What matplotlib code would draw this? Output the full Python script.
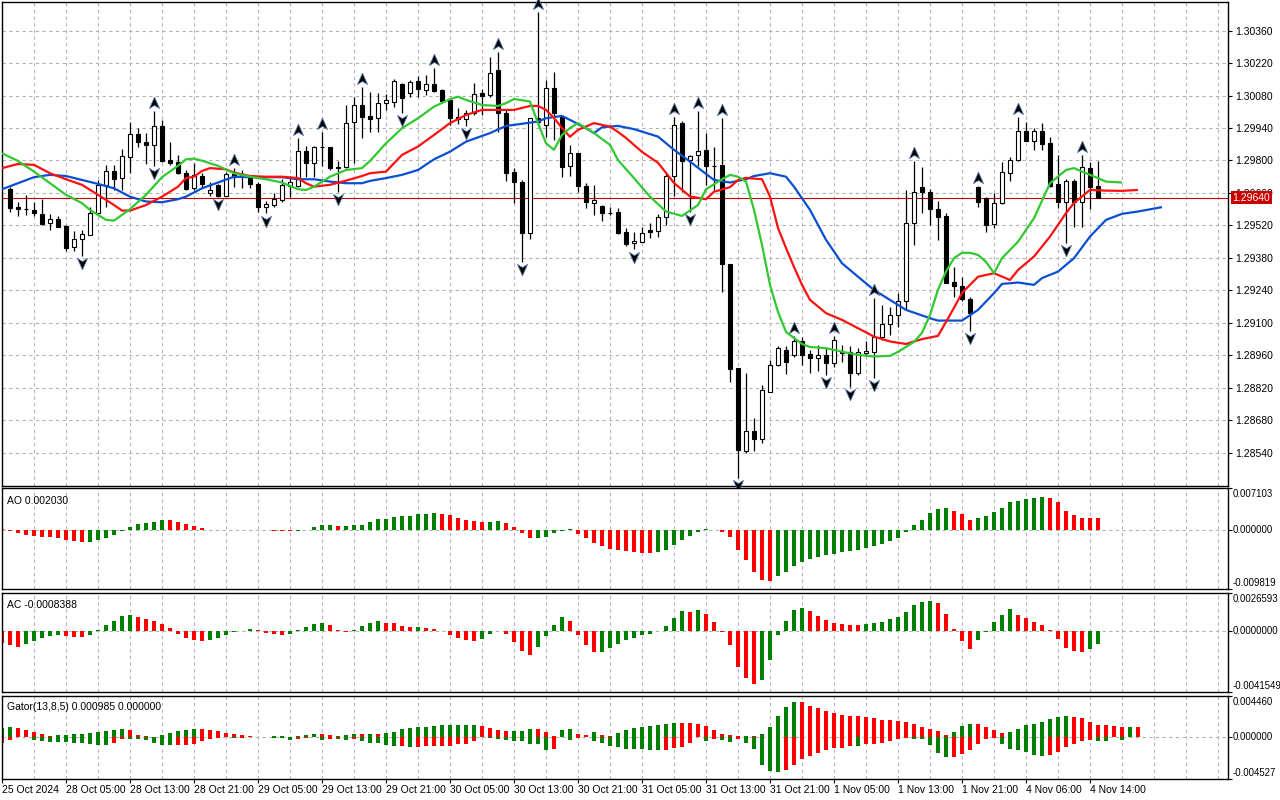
import matplotlib
matplotlib.use("Agg")
import matplotlib.pyplot as plt
from matplotlib.path import Path
import numpy as np

plt.rcParams['font.family'] = ['Liberation Sans', 'DejaVu Sans']

# ---------------- data ----------------
open_ = [1.29676, 1.29601, 1.29591, 1.29587, 1.29570, 1.29530, 1.29548, 1.29518, 1.29426, 1.29461,
         1.29480, 1.29573, 1.29695, 1.29755, 1.29724, 1.29817, 1.29914, 1.29879, 1.29866, 1.29949,
         1.29802, 1.29795, 1.29748, 1.29680, 1.29734, 1.29659, 1.29695, 1.29649, 1.29742, 1.29740,
         1.29724, 1.29699, 1.29599, 1.29608, 1.29631, 1.29690, 1.29692, 1.29841, 1.29791, 1.29857,
         1.29857, 1.29772, 1.29771, 1.29966, 1.30038, 1.29992, 1.29982, 1.30047, 1.30054, 1.30129,
         1.30092, 1.30143, 1.30104, 1.30129, 1.30104, 1.30061, 1.29986, 1.29980, 1.30004, 1.30090,
         1.30083, 1.30190, 1.30004, 1.29751, 1.29709, 1.29487, 1.29982, 1.29953, 1.30111, 1.29986,
         1.29777, 1.29831, 1.29692, 1.29616, 1.29604, 1.29575, 1.29577, 1.29491, 1.29443, 1.29450,
         1.29499, 1.29498, 1.29556, 1.29735, 1.29961, 1.29802, 1.29824, 1.29846, 1.29778, 1.29781,
         1.29354, 1.28905, 1.28550, 1.28635, 1.28599, 1.28804, 1.28919, 1.28984, 1.28962, 1.29023,
         1.28966, 1.28948, 1.28962, 1.28926, 1.28976, 1.28976, 1.28883, 1.28969, 1.28976, 1.29041,
         1.29094, 1.29134, 1.29196, 1.29532, 1.29685, 1.29666, 1.29593, 1.29561, 1.29277, 1.29259,
         1.29202, 1.29687, 1.29640, 1.29525, 1.29616, 1.29745, 1.29800, 1.29929, 1.29886, 1.29926,
         1.29874, 1.29699, 1.29623, 1.29713, 1.29620, 1.29767, 1.29690]
high = [1.29687, 1.29623, 1.29650, 1.29621, 1.29634, 1.29570, 1.29561, 1.29520, 1.29498, 1.29501,
        1.29601, 1.29716, 1.29781, 1.29781, 1.29849, 1.29967, 1.29939, 1.29920, 1.30015, 1.29975,
        1.29881, 1.29824, 1.29760, 1.29788, 1.29748, 1.29709, 1.29699, 1.29752, 1.29767, 1.29760,
        1.29738, 1.29709, 1.29627, 1.29661, 1.29719, 1.29734, 1.29896, 1.29863, 1.29863, 1.29924,
        1.29860, 1.29799, 1.30039, 1.30073, 1.30118, 1.30097, 1.30092, 1.30087, 1.30150, 1.30133,
        1.30148, 1.30164, 1.30169, 1.30198, 1.30107, 1.30064, 1.30025, 1.30018, 1.30133, 1.30107,
        1.30248, 1.30269, 1.30018, 1.29767, 1.29716, 1.29983, 1.30442, 1.30148, 1.30183, 1.29992,
        1.29867, 1.29834, 1.29702, 1.29695, 1.29608, 1.29601, 1.29594, 1.29508, 1.29493, 1.29515,
        1.29532, 1.29570, 1.29745, 1.29989, 1.29972, 1.29824, 1.30015, 1.29918, 1.29860, 1.29982,
        1.29354, 1.28906, 1.28886, 1.28689, 1.28833, 1.28941, 1.28999, 1.28999, 1.29044, 1.29041,
        1.28984, 1.29005, 1.28992, 1.29044, 1.29005, 1.28999, 1.28991, 1.29024, 1.29206, 1.29177,
        1.29170, 1.29228, 1.29673, 1.29799, 1.29771, 1.29676, 1.29626, 1.29573, 1.29343, 1.29299,
        1.29211, 1.29690, 1.29644, 1.29659, 1.29795, 1.29817, 1.29989, 1.29967, 1.29939, 1.29961,
        1.29903, 1.29824, 1.29719, 1.29719, 1.29824, 1.29795, 1.29799]
low = [1.29580, 1.29561, 1.29564, 1.29561, 1.29524, 1.29501, 1.29513, 1.29411, 1.29411, 1.29390,
       1.29479, 1.29570, 1.29599, 1.29673, 1.29673, 1.29748, 1.29860, 1.29785, 1.29777, 1.29795,
       1.29781, 1.29742, 1.29673, 1.29673, 1.29680, 1.29647, 1.29644, 1.29648, 1.29687, 1.29682,
       1.29680, 1.29577, 1.29572, 1.29601, 1.29623, 1.29644, 1.29686, 1.29730, 1.29730, 1.29777,
       1.29760, 1.29666, 1.29768, 1.29788, 1.29896, 1.29924, 1.29924, 1.30018, 1.30030, 1.30004,
       1.30073, 1.30073, 1.30083, 1.30097, 1.30054, 1.29953, 1.29958, 1.29949, 1.29996, 1.29996,
       1.30075, 1.29924, 1.29713, 1.29618, 1.29364, 1.29461, 1.29953, 1.29903, 1.29889, 1.29730,
       1.29733, 1.29666, 1.29594, 1.29565, 1.29537, 1.29565, 1.29483, 1.29432, 1.29417, 1.29449,
       1.29465, 1.29472, 1.29522, 1.29647, 1.29666, 1.29580, 1.29777, 1.29695, 1.29673, 1.29235,
       1.28847, 1.28432, 1.28541, 1.28550, 1.28581, 1.28800, 1.28916, 1.28879, 1.28955, 1.28919,
       1.28886, 1.28893, 1.28876, 1.28911, 1.28933, 1.28825, 1.28876, 1.28958, 1.28863, 1.29027,
       1.29048, 1.29084, 1.29156, 1.29436, 1.29573, 1.29522, 1.29458, 1.29271, 1.29213, 1.29196,
       1.29067, 1.29599, 1.29493, 1.29511, 1.29613, 1.29713, 1.29798, 1.29884, 1.29846, 1.29846,
       1.29685, 1.29594, 1.29446, 1.29512, 1.29515, 1.29591, 1.29640]
close = [1.29594, 1.29592, 1.29589, 1.29573, 1.29527, 1.29548, 1.29515, 1.29423, 1.29461, 1.29482,
         1.29573, 1.29695, 1.29755, 1.29722, 1.29820, 1.29914, 1.29879, 1.29866, 1.29949, 1.29798,
         1.29791, 1.29745, 1.29677, 1.29738, 1.29699, 1.29674, 1.29649, 1.29741, 1.29730, 1.29732,
         1.29699, 1.29599, 1.29613, 1.29633, 1.29695, 1.29709, 1.29841, 1.29791, 1.29857, 1.29859,
         1.29769, 1.29769, 1.29963, 1.30038, 1.29989, 1.29980, 1.30047, 1.30061, 1.30143, 1.30071,
         1.30139, 1.30107, 1.30129, 1.30101, 1.30058, 1.29985, 1.29978, 1.30004, 1.30087, 1.30078,
         1.30176, 1.30004, 1.29748, 1.29709, 1.29487, 1.29982, 1.29966, 1.30111, 1.30004, 1.29774,
         1.29831, 1.29692, 1.29620, 1.29631, 1.29573, 1.29573, 1.29489, 1.29440, 1.29452, 1.29489,
         1.29493, 1.29556, 1.29735, 1.29953, 1.29799, 1.29820, 1.29841, 1.29777, 1.29776, 1.29354,
         1.28900, 1.28553, 1.28635, 1.28599, 1.28811, 1.28919, 1.28991, 1.28933, 1.29024, 1.28962,
         1.28948, 1.28962, 1.28926, 1.29027, 1.28969, 1.28883, 1.28976, 1.28980, 1.29041, 1.29094,
         1.29134, 1.29196, 1.29532, 1.29666, 1.29663, 1.29590, 1.29558, 1.29274, 1.29257, 1.29202,
         1.29144, 1.29623, 1.29522, 1.29616, 1.29750, 1.29803, 1.29929, 1.29886, 1.29926, 1.29871,
         1.29690, 1.29623, 1.29713, 1.29620, 1.29771, 1.29687, 1.29640]

up_fractals = [18, 28, 36, 39, 44, 53, 61, 66, 83, 86, 89, 98, 103, 108, 113, 121, 126, 134]
down_fractals = [9, 18, 26, 32, 41, 49, 57, 64, 78, 85, 91, 102, 105, 108, 120, 132]

# Alligator lines (already shifted forward as drawn on the chart)
jaw_x = [-1, 3, 5, 7, 9, 11, 13, 15, 17, 19, 21, 22, 24, 26, 28, 30, 32, 34, 36, 38,
         40, 42, 44, 45, 47, 49, 51, 53, 55, 57, 60, 62, 64, 66, 67, 69, 70, 72, 73, 74,
         76, 78, 81, 83, 85, 87, 88, 90, 92, 93, 95, 97, 98, 100, 102, 104, 106, 108, 110, 112,
         115, 116, 119, 121, 123, 124, 126, 128, 129, 131, 133, 135, 137, 139, 141, 144]
jaw_y = [1.29676, 1.29728, 1.29738, 1.29733, 1.29716, 1.29699, 1.29680, 1.29644, 1.29623, 1.29620,
         1.29633, 1.29644, 1.29680, 1.29705, 1.29730, 1.29728, 1.29728, 1.29728, 1.29719, 1.29719,
         1.29709, 1.29702, 1.29702, 1.29712, 1.29724, 1.29738, 1.29759, 1.29805, 1.29838, 1.29881,
         1.29918, 1.29949, 1.29958, 1.29968, 1.29982, 1.29992, 1.29975, 1.29939, 1.29918, 1.29943,
         1.29949, 1.29935, 1.29903, 1.29846, 1.29795, 1.29742, 1.29716, 1.29705, 1.29719, 1.29733,
         1.29745, 1.29730, 1.29687, 1.29587, 1.29458, 1.29357, 1.29299, 1.29242, 1.29199, 1.29156,
         1.29120, 1.29110, 1.29110, 1.29156, 1.29228, 1.29268, 1.29274, 1.29264, 1.29293, 1.29321,
         1.29379, 1.29472, 1.29544, 1.29570, 1.29580, 1.29599]
teeth_x = [-1, 1, 3, 5, 7, 9, 11, 13, 14, 15, 17, 19, 21, 22, 23, 24, 25, 27, 28, 30,
           32, 34, 36, 37, 38, 40, 42, 44, 45, 47, 49, 51, 53, 55, 57, 59, 61, 63, 65, 66,
           67, 68, 69, 70, 71, 73, 75, 76, 77, 79, 81, 83, 85, 87, 88, 90, 91, 92, 94, 95,
           96, 97, 98, 99, 100, 102, 104, 106, 108, 110, 112, 113, 114, 116, 117, 118, 119, 121, 123, 125,
           126, 128, 130, 132, 133, 135, 137, 139, 141]
teeth_y = [1.29767, 1.29785, 1.29781, 1.29745, 1.29719, 1.29695, 1.29652, 1.29608, 1.29584, 1.29584,
           1.29608, 1.29644, 1.29687, 1.29724, 1.29730, 1.29755, 1.29767, 1.29762, 1.29748, 1.29733,
           1.29730, 1.29730, 1.29724, 1.29702, 1.29687, 1.29695, 1.29713, 1.29733, 1.29745, 1.29752,
           1.29824, 1.29860, 1.29910, 1.29961, 1.29996, 1.30018, 1.30018, 1.30018, 1.30035, 1.30035,
           1.30018, 1.29983, 1.29940, 1.29902, 1.29932, 1.29961, 1.29946, 1.29923, 1.29897, 1.29837,
           1.29790, 1.29703, 1.29645, 1.29633, 1.29665, 1.29685, 1.29716, 1.29725, 1.29719, 1.29644,
           1.29509, 1.29423, 1.29341, 1.29264, 1.29199, 1.29142, 1.29113, 1.29077, 1.29041, 1.29020,
           1.29009, 1.29020, 1.29030, 1.29044, 1.29104, 1.29165, 1.29229, 1.29299, 1.29314, 1.29285,
           1.29328, 1.29386, 1.29472, 1.29573, 1.29617, 1.29673, 1.29670, 1.29669, 1.29673]
lips_x = [-1, 1, 3, 5, 7, 9, 10, 12, 13, 15, 17, 19, 21, 22, 23, 24, 26, 28, 30, 32,
          34, 36, 37, 38, 40, 42, 44, 45, 47, 49, 51, 53, 55, 56, 57, 59, 61, 62, 63, 65,
          66, 67, 68, 69, 70, 71, 73, 75, 76, 78, 80, 82, 84, 86, 87, 89, 90, 91, 92, 93,
          94, 95, 96, 97, 99, 100, 102, 104, 106, 108, 110, 111, 113, 114, 115, 116, 117, 118, 119, 120,
          121, 122, 123, 124, 126, 128, 130, 132, 133, 134, 136, 137, 139]
lips_y = [1.29831, 1.29798, 1.29752, 1.29702, 1.29652, 1.29616, 1.29587, 1.29544, 1.29541, 1.29590,
          1.29652, 1.29728, 1.29777, 1.29805, 1.29808, 1.29799, 1.29777, 1.29745, 1.29730, 1.29719,
          1.29705, 1.29676, 1.29673, 1.29687, 1.29730, 1.29759, 1.29767, 1.29798, 1.29874, 1.29939,
          1.29982, 1.30032, 1.30064, 1.30075, 1.30061, 1.30039, 1.30035, 1.30047, 1.30065, 1.30054,
          1.29961, 1.29874, 1.29846, 1.29910, 1.29940, 1.29961, 1.29918, 1.29867, 1.29802, 1.29724,
          1.29644, 1.29580, 1.29561, 1.29608, 1.29676, 1.29719, 1.29738, 1.29730, 1.29709, 1.29587,
          1.29436, 1.29264, 1.29147, 1.29061, 1.29009, 1.28996, 1.28991, 1.28976, 1.28962, 1.28955,
          1.28958, 1.28975, 1.29018, 1.29057, 1.29134, 1.29243, 1.29321, 1.29379, 1.29402, 1.29402,
          1.29393, 1.29363, 1.29314, 1.29379, 1.29450, 1.29551, 1.29702, 1.29759, 1.29767, 1.29752,
          1.29724, 1.29709, 1.29705]

# oscillators, first value belongs to bar -1
ao = [0.00020, -0.00008, -0.00044, -0.00077, -0.00100, -0.00116, -0.00117, -0.00133, -0.00155, -0.00182,
      -0.00199, -0.00197, -0.00160, -0.00133, -0.00077, -0.00011, 0.00050, 0.00105, 0.00116, 0.00149,
      0.00171, 0.00169, 0.00138, 0.00105, 0.00066, 0.00039, 0.00005, 0.00002, -0.00001, 0.00002,
      0.00004, 0.00008, 0.00005, 0.00002, -0.00002, -0.00008, -0.00012, -0.00004, 0.00005, 0.00050,
      0.00088, 0.00090, 0.00066, 0.00068, 0.00094, 0.00096, 0.00138, 0.00185, 0.00199, 0.00232,
      0.00233, 0.00249, 0.00271, 0.00272, 0.00288, 0.00271, 0.00254, 0.00216, 0.00166, 0.00155,
      0.00138, 0.00140, 0.00155, 0.00122, 0.00050, -0.00044, -0.00127, -0.00125, -0.00111, -0.00044,
      -0.00005, 0.00015, -0.00061, -0.00127, -0.00210, -0.00260, -0.00310, -0.00326, -0.00343, -0.00360,
      -0.00376, -0.00377, -0.00354, -0.00326, -0.00243, -0.00160, -0.00094, -0.00028, 0.00017, 0.00010,
      -0.00033, -0.00116, -0.00326, -0.00503, -0.00697, -0.00824, -0.00846, -0.00763, -0.00697, -0.00597,
      -0.00531, -0.00476, -0.00448, -0.00409, -0.00393, -0.00360, -0.00348, -0.00326, -0.00299, -0.00260,
      -0.00227, -0.00182, -0.00127, -0.00028, 0.00083, 0.00182, 0.00288, 0.00365, 0.00382, 0.00332,
      0.00271, 0.00182, 0.00216, 0.00249, 0.00315, 0.00382, 0.00476, 0.00498, 0.00531, 0.00547,
      0.00564, 0.00547, 0.00481, 0.00332, 0.00265, 0.00216, 0.00205, 0.00203]
ac = [-0.00078, -0.00097, -0.00108, -0.00085, -0.00067, -0.00044, -0.00031, -0.00024, -0.00033, -0.00040,
      -0.00041, -0.00024, 0.00006, 0.00045, 0.00074, 0.00104, 0.00111, 0.00097, 0.00083, 0.00070,
      0.00051, 0.00022, -0.00017, -0.00044, -0.00058, -0.00067, -0.00058, -0.00044, -0.00024, -0.00003,
      0.00001, 0.00013, 0.00006, -0.00010, -0.00020, -0.00023, -0.00021, 0.00006, 0.00029, 0.00051,
      0.00058, 0.00045, 0.00006, -0.00003, 0.00006, 0.00035, 0.00055, 0.00070, 0.00056, 0.00055,
      0.00036, 0.00029, 0.00030, 0.00022, 0.00013, 0.00001, -0.00024, -0.00044, -0.00058, -0.00065,
      -0.00051, -0.00017, 0.00001, -0.00017, -0.00074, -0.00135, -0.00160, -0.00108, -0.00035, 0.00042,
      0.00097, 0.00074, -0.00024, -0.00092, -0.00142, -0.00141, -0.00113, -0.00085, -0.00058, -0.00044,
      -0.00024, -0.00017, 0.00001, 0.00036, 0.00090, 0.00138, 0.00131, 0.00145, 0.00118, 0.00063,
      -0.00003, -0.00092, -0.00245, -0.00318, -0.00359, -0.00336, -0.00199, -0.00028, 0.00070, 0.00143,
      0.00159, 0.00138, 0.00104, 0.00077, 0.00056, 0.00049, 0.00042, 0.00041, 0.00049, 0.00056,
      0.00063, 0.00083, 0.00097, 0.00131, 0.00179, 0.00200, 0.00206, 0.00193, 0.00118, 0.00015,
      -0.00067, -0.00122, -0.00060, -0.00003, 0.00063, 0.00111, 0.00152, 0.00111, 0.00090, 0.00063,
      0.00042, 0.00008, -0.00053, -0.00115, -0.00135, -0.00142, -0.00122, -0.00084]
gator_up = [0.00100, 0.00107, 0.00100, 0.00079, 0.00054, 0.00032, 0.00011, 0.00018, 0.00021, 0.00032,
            0.00033, 0.00043, 0.00054, 0.00064, 0.00075, 0.00086, 0.00075, 0.00021, 0.00011, 0.00003,
            0.00021, 0.00043, 0.00064, 0.00075, 0.00086, 0.00085, 0.00075, 0.00064, 0.00043, 0.00032,
            0.00021, 0.00011, 0.00004, 0.00003, 0.00007, 0.00009, 0.00004, 0.00007, 0.00021, 0.00032,
            0.00030, 0.00021, 0.00011, 0.00021, 0.00032, 0.00030, 0.00034, 0.00032, 0.00043, 0.00054,
            0.00086, 0.00097, 0.00107, 0.00108, 0.00118, 0.00129, 0.00130, 0.00131, 0.00132, 0.00133,
            0.00118, 0.00097, 0.00075, 0.00064, 0.00065, 0.00066, 0.00086, 0.00085, 0.00054, 0.00005,
            0.00075, 0.00086, 0.00032, 0.00021, 0.00054, 0.00021, 0.00011, 0.00043, 0.00075, 0.00097,
            0.00107, 0.00118, 0.00129, 0.00140, 0.00150, 0.00149, 0.00148, 0.00140, 0.00118, 0.00075,
            0.00032, 0.00021, 0.00011, 0.00012, 0.00010, 0.00027, 0.00104, 0.00229, 0.00319, 0.00373,
            0.00372, 0.00337, 0.00308, 0.00277, 0.00256, 0.00234, 0.00224, 0.00223, 0.00213, 0.00202,
            0.00181, 0.00180, 0.00170, 0.00156, 0.00138, 0.00106, 0.00084, 0.00063, 0.00020, 0.00052,
            0.00116, 0.00138, 0.00137, 0.00106, 0.00073, 0.00041, 0.00052, 0.00084, 0.00127, 0.00138,
            0.00159, 0.00191, 0.00213, 0.00220, 0.00219, 0.00202, 0.00166, 0.00127, 0.00125, 0.00115,
            0.00105, 0.00107, 0.00104]
gator_down = [-0.00064, -0.00036, -0.00003, -0.00002, -0.00029, -0.00043, -0.00054, -0.00055, -0.00056, -0.00064,
              -0.00065, -0.00075, -0.00086, -0.00087, -0.00064, -0.00018, -0.00019, -0.00021, -0.00032, -0.00064,
              -0.00086, -0.00087, -0.00086, -0.00085, -0.00075, -0.00043, -0.00021, -0.00011, -0.00002, -0.00011,
              -0.00007, -0.00004, -0.00003, -0.00004, -0.00008, -0.00014, -0.00029, -0.00018, -0.00010, -0.00004,
              -0.00029, -0.00025, -0.00026, -0.00036, -0.00018, -0.00043, -0.00060, -0.00064, -0.00086, -0.00097,
              -0.00096, -0.00104, -0.00103, -0.00102, -0.00097, -0.00096, -0.00095, -0.00072, -0.00071, -0.00043,
              -0.00002, -0.00011, -0.00021, -0.00029, -0.00043, -0.00044, -0.00072, -0.00073, -0.00136, -0.00125,
              -0.00002, -0.00029, -0.00007, -0.00002, -0.00039, -0.00061, -0.00093, -0.00104, -0.00125, -0.00126,
              -0.00127, -0.00136, -0.00137, -0.00136, -0.00115, -0.00104, -0.00061, -0.00002, -0.00039, -0.00018,
              -0.00029, -0.00050, -0.00025, -0.00060, -0.00127, -0.00298, -0.00366, -0.00377, -0.00352, -0.00298,
              -0.00238, -0.00202, -0.00173, -0.00138, -0.00123, -0.00122, -0.00094, -0.00095, -0.00072, -0.00071,
              -0.00070, -0.00048, -0.00025, -0.00011, -0.00020, -0.00021, -0.00084, -0.00170, -0.00213, -0.00212,
              -0.00180, -0.00141, -0.00073, -0.00027, -0.00013, -0.00073, -0.00127, -0.00145, -0.00163, -0.00191,
              -0.00209, -0.00191, -0.00163, -0.00109, -0.00073, -0.00045, -0.00038, -0.00045, -0.00046, -0.00003,
              -0.00029]

price_ticks = [1.28540, 1.28680, 1.28820, 1.28960, 1.29100, 1.29240, 1.29380,
               1.29520, 1.29660, 1.29800, 1.29940, 1.30080, 1.30220, 1.30360]
last_price = 1.29640
time_pos = [-1, 7, 15, 23, 31, 39, 47, 55, 63, 71, 79, 87, 95, 103, 111, 119, 127, 135]
time_labels = ["25 Oct 2024", "28 Oct 05:00", "28 Oct 13:00", "28 Oct 21:00", "29 Oct 05:00",
               "29 Oct 13:00", "29 Oct 21:00", "30 Oct 05:00", "30 Oct 13:00", "30 Oct 21:00",
               "31 Oct 05:00", "31 Oct 13:00", "31 Oct 21:00", "1 Nov 05:00", "1 Nov 13:00",
               "1 Nov 21:00", "4 Nov 06:00", "4 Nov 14:00"]

GREEN = '#008000'
RED = '#ff0000'
VGRID = '#c4aac4'
HGRID = '#a9b9a9'
FS = 7.5
FS_SIDE = 6.9


def hist_colors(vals, first, use_abs=False):
    cols = []
    col = first
    prev = None
    for v in vals:
        cur = abs(v) if use_abs else v
        if prev is not None:
            if cur > prev:
                col = GREEN
            elif cur < prev:
                col = RED
        cols.append(col)
        prev = cur
    return cols


fig = plt.figure(figsize=(12.8, 8), dpi=100)
W, H = 1280.0, 800.0


def make_ax(top, bottom):
    return fig.add_axes([2 / W, 1 - bottom / H, 1226 / W, (bottom - top) / H])


ax = make_ax(2, 486)
ax_ao = make_ax(488, 589)
ax_ac = make_ax(592.5, 692)
ax_gt = make_ax(695.5, 779)
axes = [ax, ax_ao, ax_ac, ax_gt]

for a in axes:
    a.set_xlim(-1, 152.25)
    for sp in a.spines.values():
        sp.set_color('black')
        sp.set_linewidth(1.0)
    for gx in range(3, 152, 4):
        a.axvline(gx, color=VGRID, lw=0.8, ls=(0, (3, 3)), zorder=0)
    a.tick_params(axis='x', which='both', bottom=False, labelbottom=False)
    a.yaxis.tick_right()

# ---------------- main price panel ----------------
ax.set_ylim(1.28397, 1.30483)
for p in price_ticks:
    ax.axhline(p, color=HGRID, lw=0.8, ls=(0, (3, 3)), zorder=0)
ax.axhline(last_price, color='#c00000', lw=0.8, zorder=1)

n = len(close)
xs = np.arange(n)
o = np.array(open_)
c = np.array(close)
ax.vlines(xs, low, high, color='black', lw=0.9, zorder=2)
body_lo = np.minimum(o, c)
body_h = np.maximum(np.abs(c - o), 1e-6)
fills = ['white' if cc > oo else 'black' for oo, cc in zip(o, c)]
ax.bar(xs, body_h, bottom=body_lo, width=0.62, color=fills, edgecolor='black',
       linewidth=0.8, zorder=3)

ax.plot(jaw_x, jaw_y, color='#0a4fd2', lw=1.6, zorder=4, solid_capstyle='butt')
ax.plot(teeth_x, teeth_y, color='#ff1010', lw=1.6, zorder=4, solid_capstyle='butt')
ax.plot(lips_x, lips_y, color='#32c832', lw=1.6, zorder=4, solid_capstyle='butt')

up_arrow = Path([(0, 1), (0.8, -0.8), (0, -0.3), (-0.8, -0.8), (0, 1)],
                [Path.MOVETO, Path.LINETO, Path.LINETO, Path.LINETO, Path.CLOSEPOLY])
down_arrow = Path([(0, -1), (0.8, 0.8), (0, 0.3), (-0.8, 0.8), (0, -1)],
                  [Path.MOVETO, Path.LINETO, Path.LINETO, Path.LINETO, Path.CLOSEPOLY])
ax.plot(up_fractals, [high[i] + 0.00034 for i in up_fractals], ls='none',
        marker=up_arrow, ms=9, mfc='black', mec='#5070a0', mew=0.6, zorder=5, clip_on=False)
ax.plot(down_fractals, [low[i] - 0.00031 for i in down_fractals], ls='none',
        marker=down_arrow, ms=9, mfc='black', mec='#5070a0', mew=0.6, zorder=5, clip_on=False)

ax.set_yticks(price_ticks)
ax.set_yticklabels([f"{p:.5f}" for p in price_ticks])
ax.tick_params(axis='y', direction='out', length=3, width=0.8, pad=2, labelsize=FS)
ax.annotate(f"{last_price:.5f}", xy=(1, last_price), xycoords=('axes fraction', 'data'),
            xytext=(3.2, 0), textcoords='offset points', va='center', ha='left',
            fontsize=FS, color='white', annotation_clip=False,
            bbox=dict(boxstyle='square,pad=0.18', fc='#c80000', ec='none'))


# ---------------- oscillator panels ----------------
def osc_panel(a, lo, hi, fmt, title):
    a.set_ylim(lo, hi)
    a.axhline(0, color=HGRID, lw=0.8, ls=(0, (3, 3)), zorder=0)
    a.set_yticks([lo, 0, hi])
    a.set_yticklabels([])
    a.tick_params(axis='y', direction='out', length=3, width=0.8)
    for val, va in ((hi, 'top'), (0, 'center'), (lo, 'bottom')):
        a.annotate(fmt.format(val), xy=(1, val), xycoords=('axes fraction', 'data'),
                   xytext=(3.0, 0 if va == 'center' else (-1 if va == 'top' else 1)),
                   textcoords='offset points', va=va, ha='left', fontsize=FS_SIDE,
                   annotation_clip=False)
    a.text(0.004, 0.92, title, transform=a.transAxes, va='top', ha='left', fontsize=FS)


bx = np.arange(-1, len(ao) - 1)
ax_ao.bar(bx, ao, width=0.55, color=hist_colors(ao, RED), linewidth=0, zorder=2)
osc_panel(ax_ao, -0.009819, 0.007103, "{:.6f}", f"AO {ao[-1]:.6f}")

bx = np.arange(-1, len(ac) - 1)
ax_ac.bar(bx, ac, width=0.55, color=hist_colors(ac, RED), linewidth=0, zorder=2)
osc_panel(ax_ac, -0.0041549, 0.0026593, "{:.7f}", "AC -0.0008388")

gx_up = np.arange(-1, len(gator_up) - 1)
gx_dn = np.arange(-1, len(gator_down) - 1)
ax_gt.bar(gx_up, gator_up, width=0.55, color=hist_colors(gator_up, GREEN, True),
          linewidth=0, zorder=2)
ax_gt.bar(gx_dn, gator_down, width=0.55, color=hist_colors(gator_down, RED, True),
          linewidth=0, zorder=2)
osc_panel(ax_gt, -0.004527, 0.004460, "{:.6f}", "Gator(13,8,5) 0.000985 0.000000")

for a in (ax_ao, ax_ac, ax_gt):
    a.yaxis.set_major_formatter(plt.NullFormatter())

ax_gt.set_xticks(time_pos)
ax_gt.set_xticklabels(time_labels, ha='left')
ax_gt.tick_params(axis='x', bottom=True, labelbottom=True, direction='out',
                  length=3, width=0.8, pad=1.5, labelsize=FS)

fig.savefig("out.png", dpi=100, facecolor='white')
